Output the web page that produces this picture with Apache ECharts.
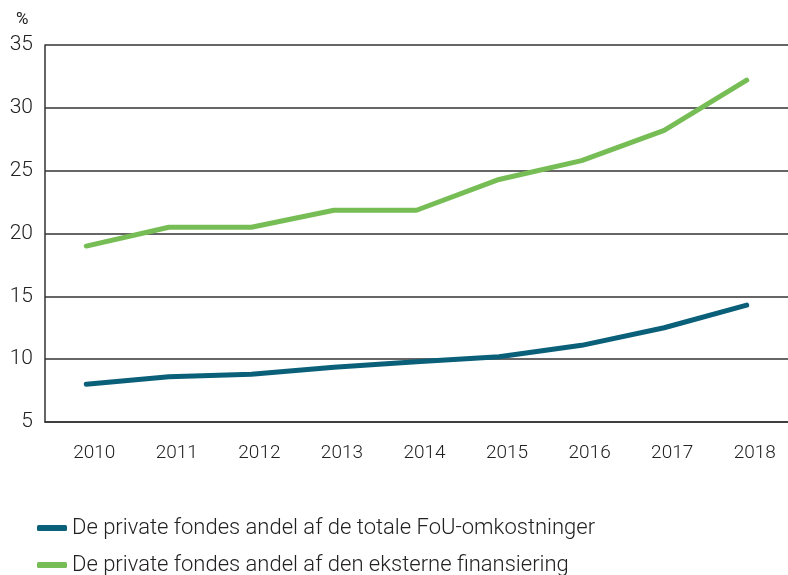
<!DOCTYPE html>
<html lang="da">
<head>
    <meta charset="UTF-8">
    <title>Private fondes andel</title>
    <script src="https://cdn.jsdelivr.net/npm/echarts@6/dist/echarts.min.js"></script>
</head>
<body style="margin:0;">
<div id="main" style="width:788px; height:575px;"></div>
<script>
    // data
    var years = ['2010', '2011', '2012', '2013', '2014', '2015', '2016', '2017', '2018'];
    var fouShare = [8.0, 8.6, 8.8, 9.35, 9.8, 10.2, 11.1, 12.5, 14.3];
    var externShare = [19.0, 20.5, 20.5, 21.85, 21.85, 24.3, 25.8, 28.2, 32.2];
    var seriesNames = [
        'De private fondes andel af de totale FoU-omkostninger',
        'De private fondes andel af den eksterne finansiering'
    ];

    var chart = echarts.init(document.getElementById('main'));
    var font = 'Roboto';

    // one legend per row, so they stack like the original
    function legendRow(name, top) {
        return {
            left: 37,
            top: top,
            padding: 0,
            itemWidth: 30,
            itemHeight: 6,
            itemGap: 0,
            icon: 'roundRect',
            textStyle: { fontFamily: font, fontSize: 22, fontWeight: 300, color: '#222' },
            data: [name]
        };
    }

    chart.setOption({
        animation: false,
        backgroundColor: '#fff',
        color: ['#0b6079', '#77bd55'],
        grid: { left: 45, right: -4, top: 45, bottom: 153 },
        legend: [legendRow(seriesNames[0], 517), legendRow(seriesNames[1], 554)],
        graphic: [{
            type: 'text',
            left: 16,
            top: 11,
            style: { text: '%', fontFamily: font, fontSize: 17, fill: '#222' }
        }],
        xAxis: {
            type: 'category',
            data: years,
            boundaryGap: true,
            axisLine: { lineStyle: { color: '#333', width: 1.5 } },
            axisTick: { inside: true, length: 9, lineStyle: { color: '#333', width: 1.5 } },
            axisLabel: {
                margin: 22,
                padding: [0, 0, 0, 16],
                fontFamily: font,
                fontSize: 19,
                fontWeight: 300,
                color: '#222'
            }
        },
        yAxis: {
            type: 'value',
            min: 5,
            max: 35,
            interval: 5,
            axisLine: { show: true, lineStyle: { color: '#333', width: 1.5 } },
            axisTick: { show: false },
            splitLine: { lineStyle: { color: '#333', width: 1.5 } },
            axisLabel: {
                margin: 12,
                padding: [12, 0, 0, 0],
                fontFamily: font,
                fontSize: 21,
                fontWeight: 300,
                color: '#222'
            }
        },
        series: [{
            name: seriesNames[0],
            type: 'line',
            data: fouShare,
            symbol: 'none',
            lineStyle: { width: 5, cap: 'round' }
        }, {
            name: seriesNames[1],
            type: 'line',
            data: externShare,
            symbol: 'none',
            lineStyle: { width: 5, cap: 'round' }
        }]
    });
</script>
</body>
</html>
